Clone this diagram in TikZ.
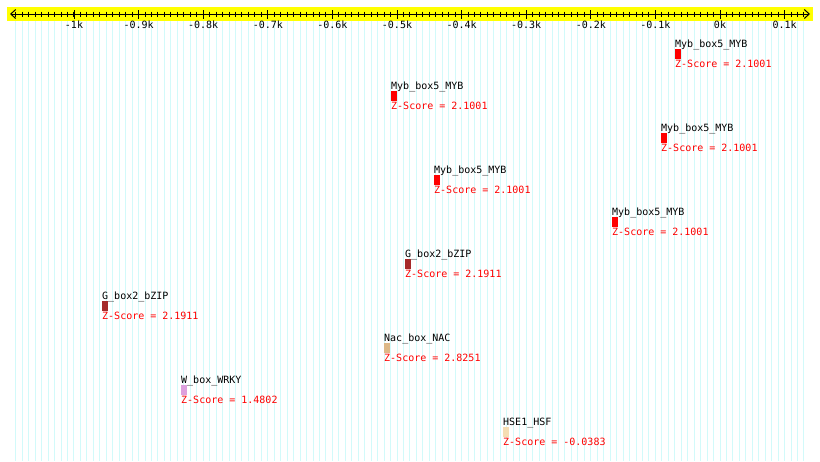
\documentclass[tikz,border=0pt]{standalone}
\usepackage{fontspec}
\setmonofont{DejaVu Sans Mono}
\usepackage{tikz}
\usetikzlibrary{arrows.meta}
\definecolor{rulerband}{HTML}{FFFF00}
\definecolor{gridcyan}{HTML}{D2FAFA}
\definecolor{gboxred}{HTML}{A52A2A}
\definecolor{nactan}{HTML}{DEB887}
\definecolor{wboxplum}{HTML}{DDA0DD}
\definecolor{hsewheat}{HTML}{F5DEB3}
\tikzset{
  pixfont/.style={font=\ttfamily\fontsize{10}{10}\selectfont},
  sitelabel/.style={pixfont, anchor=base west, inner sep=0pt},
  zscore/.style={sitelabel, text=red},
  sitebox/.style={fill=#1, draw=none, minimum width=6pt, minimum height=10pt,
                  inner sep=0pt, anchor=north west},
  sitebox/.default=red,
  ticklabel/.style={pixfont, anchor=base, inner sep=0pt},
  axisline/.style={{Straight Barb[length=5pt,width=9pt]}-{Straight Barb[length=5pt,width=9pt]},
                   line width=1pt},
  gridline/.style={draw=gridcyan, line width=1pt},
}

\begin{document}
\begin{tikzpicture}[x=1pt, y=-1pt]

% ── Canvas ────────────────────────────────────────────────────────────────────
\fill[white] (0,0) rectangle (820,461);
\useasboundingbox (0,0) rectangle (820,461);

% ── Grid lines (every 10 bp, 0 bp at x = 720) ─────────────────────────────────
\foreach \k in {-109,...,13}
  \draw[gridline] (720+6.46*\k,21) -- (720+6.46*\k,461);

% ── Ruler ─────────────────────────────────────────────────────────────────────
\fill[rulerband] (7,7) rectangle (813,21);
\coordinate (axisL) at (10,14);
\coordinate (axisR) at (810,14);
\draw[axisline] (axisL) -- (axisR);
\foreach \k in {-109,...,13}
  \draw[line width=1pt] (720+6.46*\k,11.5) -- (720+6.46*\k,16.5);
\foreach \v/\t in {-10/-1k,-9/-0.9k,-8/-0.8k,-7/-0.7k,-6/-0.6k,-5/-0.5k,
                   -4/-0.4k,-3/-0.3k,-2/-0.2k,-1/-0.1k,0/0k,1/0.1k} {
  \draw[line width=1pt] (720+64.6*\v,10) -- (720+64.6*\v,18.5);
  \node[ticklabel] (tick\v) at (720+64.6*\v,28) {\t};
}

% ── Binding sites: label, box, score ─────────────────────────────────────────
\foreach \i/\x/\y/\name/\col/\z in {
    1/675/47/Myb\_box5\_MYB/red/2.1001,
    2/391/89/Myb\_box5\_MYB/red/2.1001,
    3/661/131/Myb\_box5\_MYB/red/2.1001,
    4/434/173/Myb\_box5\_MYB/red/2.1001,
    5/612/215/Myb\_box5\_MYB/red/2.1001,
    6/405/257/G\_box2\_bZIP/gboxred/2.1911,
    7/102/299/G\_box2\_bZIP/gboxred/2.1911,
    8/384/341/Nac\_box\_NAC/nactan/2.8251,
    9/181/383/W\_box\_WRKY/wboxplum/1.4802,
    10/503/425/HSE1\_HSF/hsewheat/-0.0383} {
  \node[sitelabel] (lab\i) at (\x,\y) {\name};
  \node[sitebox=\col] (box\i) at (\x,\y+1.5) {};
  \node[zscore] (z\i) at (\x,\y+20) {Z-Score = \z};
}

\end{tikzpicture}
\end{document}
